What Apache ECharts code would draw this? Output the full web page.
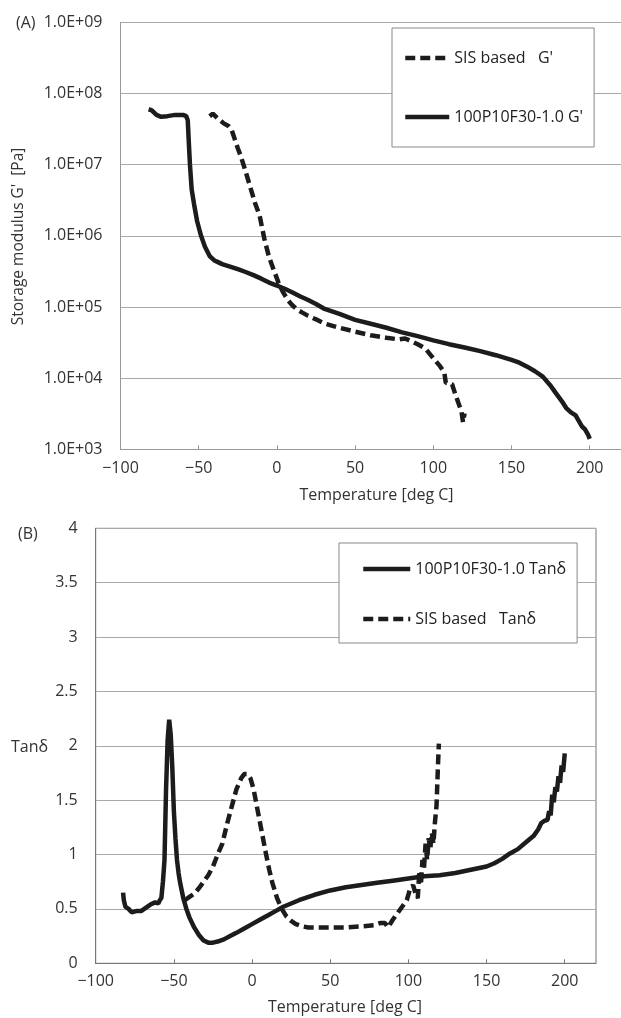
<!DOCTYPE html>
<html>
<head>
<meta charset="utf-8">
<script src="https://cdn.jsdelivr.net/npm/echarts@6/dist/echarts.min.js"></script>
<style>
html,body{margin:0;padding:0;background:#fff;}
#chart{width:621px;height:1018px;}
</style>
</head>
<body>
<div id="chart"></div>
<script>
// ---------- Data ----------
const seriesNames = {
  sisG: "SIS based   G'",
  pG: "100P10F30-1.0 G'",
  pTan: "100P10F30-1.0 Tanδ",
  sisTan: "SIS based   Tanδ"
};

// (A) Storage modulus, 100P10F30-1.0
const pG_T = [-82, -80, -77, -74, -70, -65, -60, -58, -57, -56.3, -55.6, -54.5, -53, -51, -48.5, -46, -43, -40, -38, -35, -30, -25, -20, -15, -10, -5, 0, 5, 10, 15, 20, 25, 30, 40, 50, 60, 70, 80, 90, 100, 110, 120, 130, 140, 150, 155, 160, 165, 170, 175, 178, 182, 185, 188, 191, 193, 195, 197, 199, 200];
const pG_V = [6.0e7, 5.8e7, 5.0e7, 4.7e7, 4.8e7, 5.0e7, 5.0e7, 4.8e7, 4.2e7, 2.0e7, 1.0e7, 4.5e6, 2.8e6, 1.6e6, 1.0e6, 7.0e5, 5.2e5, 4.5e5, 4.3e5, 4.0e5, 3.7e5, 3.4e5, 3.1e5, 2.8e5, 2.5e5, 2.2e5, 2.0e5, 1.8e5, 1.6e5, 1.4e5, 1.25e5, 1.1e5, 9.5e4, 8.0e4, 6.6e4, 5.8e4, 5.1e4, 4.4e4, 3.9e4, 3.4e4, 3.0e4, 2.7e4, 2.4e4, 2.1e4, 1.8e4, 1.65e4, 1.45e4, 1.25e4, 1.05e4, 7.8e3, 6.3e3, 4.8e3, 3.8e3, 3.3e3, 3.0e3, 2.5e3, 2.1e3, 1.9e3, 1.6e3, 1.4e3];

// (A) Storage modulus, SIS based
const sisG_T = [-43, -41, -38, -34, -31, -29, -27, -25, -23, -20, -17, -14, -11, -8, -5, -2, 1, 4, 7, 10, 13, 16, 20, 25, 30, 40, 50, 60, 70, 78, 82, 86, 90, 95, 100, 104, 107, 108, 110, 112, 114, 116, 118, 119, 120];
const sisG_V = [4.8e7, 5.2e7, 4.5e7, 3.8e7, 3.5e7, 3.1e7, 2.3e7, 1.7e7, 1.3e7, 8.0e6, 4.8e6, 2.9e6, 1.9e6, 9.0e5, 5.0e5, 3.3e5, 2.2e5, 1.6e5, 1.25e5, 1.05e5, 9.2e4, 8.4e4, 7.5e4, 6.7e4, 5.9e4, 5.1e4, 4.5e4, 4.0e4, 3.7e4, 3.5e4, 3.6e4, 3.3e4, 3.0e4, 2.6e4, 1.9e4, 1.5e4, 1.2e4, 8.6e3, 8.5e3, 8.2e3, 6.0e3, 4.5e3, 3.4e3, 2.4e3, 3.2e3];

// (B) Tan delta, 100P10F30-1.0
const pTan_T = [-82.5, -82, -81, -79, -77, -74, -71, -68, -65, -62, -60, -59, -58, -57, -56, -55, -54, -53, -52, -51, -50, -49, -48, -47, -46, -44, -42, -40, -37, -34, -31, -28, -25, -22, -18, -14, -10, -5, 0, 5, 10, 15, 20, 25, 30, 40, 50, 60, 70, 80, 90, 100, 110, 120, 130, 140, 150, 155, 160, 165, 170, 175, 180, 183, 185, 187, 189, 190, 191, 192, 193, 194, 195, 196, 197, 198, 199, 200];
const pTan_V = [0.65, 0.58, 0.52, 0.50, 0.47, 0.48, 0.48, 0.51, 0.54, 0.56, 0.55, 0.58, 0.60, 0.75, 0.95, 1.6, 2.05, 2.24, 2.1, 1.8, 1.4, 1.15, 0.95, 0.83, 0.74, 0.60, 0.50, 0.42, 0.33, 0.26, 0.21, 0.19, 0.19, 0.20, 0.22, 0.25, 0.28, 0.32, 0.36, 0.40, 0.44, 0.48, 0.52, 0.55, 0.58, 0.63, 0.67, 0.70, 0.72, 0.74, 0.76, 0.78, 0.80, 0.81, 0.83, 0.86, 0.89, 0.92, 0.96, 1.01, 1.05, 1.11, 1.17, 1.23, 1.29, 1.31, 1.32, 1.40, 1.36, 1.55, 1.48, 1.62, 1.58, 1.72, 1.66, 1.82, 1.76, 1.93];

// (B) Tan delta, SIS based
const sisTan_T = [-43, -40, -37, -34, -31, -28, -25, -22, -19, -16, -13, -10, -7, -5, -3, -1, 1, 3, 5, 7, 9, 11, 13, 16, 19, 22, 25, 28, 32, 36, 40, 50, 60, 70, 78, 82, 85, 87, 90, 93, 96, 99, 101, 103, 105, 106, 107, 108, 109, 110, 111, 112, 113, 114, 115, 116, 117, 118, 118.5, 119, 119.5];
const sisTan_V = [0.58, 0.61, 0.64, 0.69, 0.75, 0.81, 0.89, 1.0, 1.1, 1.28, 1.44, 1.6, 1.7, 1.74, 1.74, 1.70, 1.6, 1.45, 1.3, 1.15, 1.0, 0.86, 0.74, 0.60, 0.50, 0.43, 0.39, 0.36, 0.34, 0.33, 0.33, 0.33, 0.33, 0.34, 0.35, 0.37, 0.37, 0.33, 0.40, 0.46, 0.52, 0.58, 0.68, 0.72, 0.62, 0.60, 0.85, 0.72, 0.95, 0.88, 1.1, 0.95, 1.15, 1.05, 1.2, 1.1, 1.3, 1.45, 1.65, 1.85, 2.02];

// Axis settings
const tempTicks = [-100, -50, 0, 50, 100, 150, 200];
const tanTicks = [0, 0.5, 1, 1.5, 2, 2.5, 3, 3.5, 4];
const xTitle = "Temperature [deg C]";
const yTitleA = "Storage modulus G'  [Pa]";
const yTitleB = "Tanδ";

// ---------- Build ----------
const zip = (xs, ys) => xs.map((x, i) => [x, ys[i]]);
const FONT = "Open Sans";
const LINE = '#1c1c1c';
const FS = 16;

const xLabelFmt = v => (tempTicks.indexOf(v) >= 0 ? String(v).replace('-', '\u2212') : '');
const yLabelFmt = v => (tanTicks.indexOf(v) >= 0 ? String(v) : '');
const logFmt = v => {
  const e = Math.round(Math.log10(v));
  return '1.0E+' + (e < 10 ? '0' + e : e);
};

const chart = echarts.init(document.getElementById('chart'), null, {renderer: 'canvas'});
const solid = {color: LINE, width: 4.5, type: 'solid'};
const dashed = {color: LINE, width: 4.5, type: [10, 5]};
const lbl = (margin) => ({fontSize: FS, color: '#333', margin: margin, fontFamily: FONT});

const option = {
  animation: false,
  backgroundColor: '#fff',
  textStyle: {fontFamily: FONT},
  grid: [
    {left: 120.5, top: 22.3, width: 513, height: 427},
    {left: 95.7, top: 528.3, width: 500.3, height: 435, show: true, borderColor: '#777', borderWidth: 1, backgroundColor: 'transparent'}
  ],
  xAxis: [
    {type: 'value', gridIndex: 0, min: -100, max: 220, interval: 50,
     axisLine: {show: true, onZero: false, lineStyle: {color: '#999', width: 1}},
     axisTick: {show: true, inside: true, length: 4, lineStyle: {color: '#999'}},
     axisLabel: Object.assign(lbl(11), {formatter: xLabelFmt, showMaxLabel: false}),
     splitLine: {show: false}},
    {type: 'value', gridIndex: 1, min: -100, max: 220, interval: 50,
     axisLine: {show: true, onZero: false, lineStyle: {color: '#777', width: 1}},
     axisTick: {show: true, inside: true, length: 4, lineStyle: {color: '#777'}},
     axisLabel: Object.assign(lbl(10), {formatter: xLabelFmt, showMaxLabel: false}),
     splitLine: {show: false}}
  ],
  yAxis: [
    {type: 'log', logBase: 10, gridIndex: 0, min: 1e3, max: 1e9,
     axisLine: {show: true, onZero: false, lineStyle: {color: '#999', width: 1}},
     axisTick: {show: false},
     minorTick: {show: false},
     axisLabel: Object.assign(lbl(18), {formatter: logFmt}),
     splitLine: {show: true, lineStyle: {color: '#aaa', width: 1}}},
    {type: 'value', gridIndex: 1, min: 0, max: 4, interval: 0.5,
     axisLine: {show: true, onZero: false, lineStyle: {color: '#777', width: 1}},
     axisTick: {show: false},
     axisLabel: Object.assign(lbl(18), {formatter: yLabelFmt}),
     splitLine: {show: true, lineStyle: {color: '#aaa', width: 1}}}
  ],
  legend: [
    {data: [seriesNames.sisG, seriesNames.pG], orient: 'vertical', left: 392, top: 28,
     padding: [22, 11, 22, 11], itemGap: 43, itemWidth: 44, itemHeight: 14,
     borderColor: '#888', borderWidth: 1, backgroundColor: '#fff',
     itemStyle: {opacity: 0},
     lineStyle: {width: 4.5},
     textStyle: {fontSize: FS, color: '#222', fontFamily: FONT}},
    {data: [seriesNames.pTan, seriesNames.sisTan], orient: 'vertical', left: 339, top: 543,
     padding: [18, 11, 16, 22], itemGap: 34, itemWidth: 47, itemHeight: 14,
     borderColor: '#888', borderWidth: 1, backgroundColor: '#fff',
     itemStyle: {opacity: 0},
     lineStyle: {width: 4.5},
     textStyle: {fontSize: FS, color: '#222', fontFamily: FONT}}
  ],
  series: [
    {name: seriesNames.sisG, type: 'line', xAxisIndex: 0, yAxisIndex: 0, showSymbol: false, symbol: 'none',
     lineStyle: dashed, itemStyle: {color: LINE}, data: zip(sisG_T, sisG_V)},
    {name: seriesNames.pG, type: 'line', xAxisIndex: 0, yAxisIndex: 0, showSymbol: false, symbol: 'none',
     lineStyle: solid, itemStyle: {color: LINE}, data: zip(pG_T, pG_V)},
    {name: seriesNames.pTan, type: 'line', xAxisIndex: 1, yAxisIndex: 1, showSymbol: false, symbol: 'none',
     lineStyle: solid, itemStyle: {color: LINE}, data: zip(pTan_T, pTan_V)},
    {name: seriesNames.sisTan, type: 'line', xAxisIndex: 1, yAxisIndex: 1, showSymbol: false, symbol: 'none',
     lineStyle: dashed, itemStyle: {color: LINE}, data: zip(sisTan_T, sisTan_V)}
  ],
  graphic: [
    {type: 'text', x: 16, y: 23, style: {text: '(A)', align: 'left', verticalAlign: 'middle', fill: '#333', font: FS + 'px "Open Sans"'}},
    {type: 'text', x: 18, y: 534, style: {text: '(B)', align: 'left', verticalAlign: 'middle', fill: '#333', font: FS + 'px "Open Sans"'}},
    {type: 'text', x: 19, y: 236.5, rotation: Math.PI / 2,
     style: {text: yTitleA, align: 'center', verticalAlign: 'middle', fill: '#333', font: '15.5px "Open Sans"'}},
    {type: 'text', x: 11, y: 747,
     style: {text: yTitleB, align: 'left', verticalAlign: 'middle', fill: '#333', font: FS + 'px "Open Sans"'}},
    {type: 'text', x: 376.5, y: 495,
     style: {text: xTitle, align: 'center', verticalAlign: 'middle', fill: '#333', font: FS + 'px "Open Sans"'}},
    {type: 'text', x: 345, y: 1007,
     style: {text: xTitle, align: 'center', verticalAlign: 'middle', fill: '#333', font: FS + 'px "Open Sans"'}}
  ]
};
chart.setOption(option);
</script>
</body>
</html>
